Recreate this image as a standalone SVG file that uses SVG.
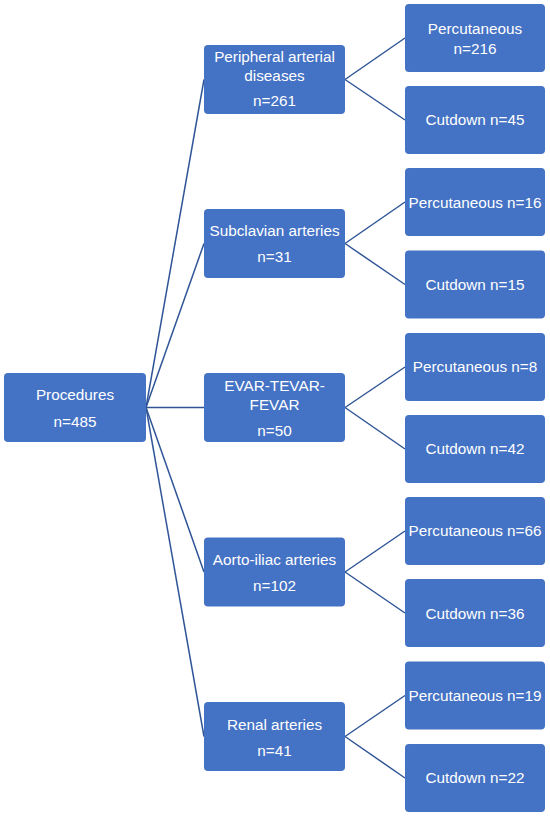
<svg xmlns="http://www.w3.org/2000/svg" width="550" height="818" viewBox="0 0 550 818">
<style>
.box{fill:#4472C4;}
.t{font-family:"Liberation Sans",Arial,sans-serif;font-size:15.3px;fill:#FFFFFF;text-anchor:middle;}
.c{stroke:#2F5597;stroke-width:1.5;fill:none;}
</style>
<rect width="550" height="818" fill="#FFFFFF"/>
<g id="connectors">
<line class="c" x1="146" y1="407.5" x2="204" y2="79.5"/>
<line class="c" x1="146" y1="407.5" x2="204" y2="243.5"/>
<line class="c" x1="146" y1="407.5" x2="204" y2="407.5"/>
<line class="c" x1="146" y1="407.5" x2="204" y2="572"/>
<line class="c" x1="146" y1="407.5" x2="204" y2="736.5"/>
<line class="c" x1="345" y1="79.5" x2="405" y2="38"/>
<line class="c" x1="345" y1="79.5" x2="405" y2="120"/>
<line class="c" x1="345" y1="243.5" x2="405" y2="202"/>
<line class="c" x1="345" y1="243.5" x2="405" y2="284.5"/>
<line class="c" x1="345" y1="407.5" x2="405" y2="367"/>
<line class="c" x1="345" y1="407.5" x2="405" y2="449"/>
<line class="c" x1="345" y1="572" x2="405" y2="531"/>
<line class="c" x1="345" y1="572" x2="405" y2="613"/>
<line class="c" x1="345" y1="736.5" x2="405" y2="695.5"/>
<line class="c" x1="345" y1="736.5" x2="405" y2="778"/>
</g>
<g id="procedures">
<rect class="box" x="4" y="373" width="142" height="69" rx="4"/>
<text class="t" x="75" y="400">Procedures</text>
<text class="t" x="75" y="427">n=485</text>
</g>
<g id="peripheral">
<rect class="box" x="204" y="45" width="141" height="69" rx="4"/>
<text class="t" x="274.5" y="61.5">Peripheral arterial</text>
<text class="t" x="274.5" y="80.5">diseases</text>
<text class="t" x="274.5" y="106">n=261</text>
</g>
<g id="subclavian">
<rect class="box" x="204" y="209" width="141" height="69" rx="4"/>
<text class="t" x="274.5" y="236">Subclavian arteries</text>
<text class="t" x="274.5" y="262">n=31</text>
</g>
<g id="evar">
<rect class="box" x="204" y="373" width="141" height="69" rx="4"/>
<text class="t" x="274.5" y="390.5">EVAR-TEVAR-</text>
<text class="t" x="274.5" y="409.5">FEVAR</text>
<text class="t" x="274.5" y="435.5">n=50</text>
</g>
<g id="aortoiliac">
<rect class="box" x="204" y="537.5" width="141" height="69" rx="4"/>
<text class="t" x="274.5" y="564.5">Aorto-iliac arteries</text>
<text class="t" x="274.5" y="591">n=102</text>
</g>
<g id="renal">
<rect class="box" x="204" y="702" width="141" height="69" rx="4"/>
<text class="t" x="274.5" y="729.5">Renal arteries</text>
<text class="t" x="274.5" y="755.5">n=41</text>
</g>
<g id="perc-peripheral">
<rect class="box" x="405" y="4" width="140" height="68" rx="4"/>
<text class="t" x="475" y="33.5">Percutaneous</text>
<text class="t" x="475" y="53.5">n=216</text>
</g>
<g id="cut-peripheral">
<rect class="box" x="405" y="86" width="140" height="68" rx="4"/>
<text class="t" x="475" y="125">Cutdown n=45</text>
</g>
<g id="perc-subclavian">
<rect class="box" x="405" y="168" width="140" height="68" rx="4"/>
<text class="t" x="475" y="208">Percutaneous n=16</text>
</g>
<g id="cut-subclavian">
<rect class="box" x="405" y="250.5" width="140" height="68" rx="4"/>
<text class="t" x="475" y="289.5">Cutdown n=15</text>
</g>
<g id="perc-evar">
<rect class="box" x="405" y="333" width="140" height="68" rx="4"/>
<text class="t" x="475" y="372">Percutaneous n=8</text>
</g>
<g id="cut-evar">
<rect class="box" x="405" y="415" width="140" height="68" rx="4"/>
<text class="t" x="475" y="454">Cutdown n=42</text>
</g>
<g id="perc-aortoiliac">
<rect class="box" x="405" y="497" width="140" height="68" rx="4"/>
<text class="t" x="475" y="536">Percutaneous n=66</text>
</g>
<g id="cut-aortoiliac">
<rect class="box" x="405" y="579" width="140" height="68" rx="4"/>
<text class="t" x="475" y="618.5">Cutdown n=36</text>
</g>
<g id="perc-renal">
<rect class="box" x="405" y="661.5" width="140" height="68" rx="4"/>
<text class="t" x="475" y="701">Percutaneous n=19</text>
</g>
<g id="cut-renal">
<rect class="box" x="405" y="744" width="140" height="68" rx="4"/>
<text class="t" x="475" y="783">Cutdown n=22</text>
</g>
</svg>
